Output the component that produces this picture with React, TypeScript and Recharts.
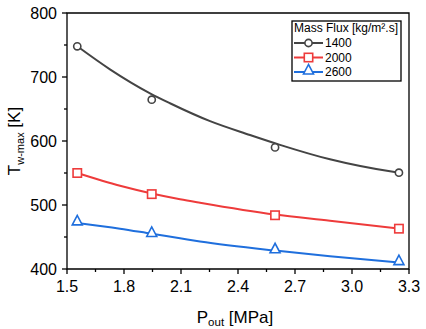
import React from 'react';
import { ComposedChart, Line, Scatter, XAxis, YAxis, ReferenceArea } from 'recharts';

const SERIES_NAMES = ['1400', '2000', '2600'];
const COLORS = ['#444444', '#EE3B3B', '#1F6FDD'];
const SHAPES = ['circle', 'square', 'triangle'];

const MARKER_X = [1.554, 1.946, 2.595, 3.247];
const MARKERS_1400 = [748, 664.5, 590, 550.5];
const MARKERS_2000 = [550, 517, 484, 463];
const MARKERS_2600 = [472, 454, 428.5, 410];

const CURVE_X_1400 = [1.554, 1.726, 1.937, 2.042, 2.253, 2.463, 2.621, 2.884, 3.2, 3.247];
const CURVE_1400 = [748, 712, 674.5, 659, 631, 609.4, 594, 571.4, 552.6, 550.5];
const CURVE_X_2000 = [1.554, 1.779, 1.946, 2.095, 2.2, 2.595, 2.884, 3.247];
const CURVE_2000 = [550, 530, 518, 509, 503.5, 485, 475.5, 463];
const CURVE_X_2600 = [1.554, 1.779, 1.946, 2.095, 2.2, 2.621, 2.884, 3.247];
const CURVE_2600 = [472, 463, 455, 448, 443, 428, 420, 410];

const X_TICKS = [1.5, 1.65, 1.8, 1.95, 2.1, 2.25, 2.4, 2.55, 2.7, 2.85, 3.0, 3.15, 3.3];
const Y_TICKS = [400, 450, 500, 550, 600, 650, 700, 750, 800];

const FONT = '"Liberation Sans", Arial, sans-serif';

const zip = (xs: number[], ys: number[]) => xs.map((x, i) => ({ x, y: ys[i] }));

const markerSets = [MARKERS_1400, MARKERS_2000, MARKERS_2600].map((ys) => zip(MARKER_X, ys));
const curveSets = [
  zip(CURVE_X_1400, CURVE_1400),
  zip(CURVE_X_2000, CURVE_2000),
  zip(CURVE_X_2600, CURVE_2600),
];

function Marker({ cx, cy, shape, color }: { cx: number; cy: number; shape: string; color: string }) {
  if (shape === 'circle') {
    return <circle cx={cx} cy={cy} r={3.6} fill="#fff" stroke={color} strokeWidth={1.6} />;
  }
  if (shape === 'square') {
    return <rect x={cx - 4.2} y={cy - 4.2} width={8.4} height={8.4} fill="#fff" stroke={color} strokeWidth={1.6} />;
  }
  return (
    <polygon
      points={`${cx},${cy - 7.5} ${cx - 5},${cy + 2} ${cx + 5},${cy + 2}`}
      fill="#fff"
      stroke={color}
      strokeWidth={1.6}
      strokeLinejoin="miter"
    />
  );
}

const XTick = (props: any) => {
  const { x, y, payload, index } = props;
  const major = index % 2 === 0;
  return (
    <g>
      <line x1={x} y1={y} x2={x} y2={y + (major ? 5 : 3)} stroke="#000" strokeWidth={1.3} />
      {major && (
        <text x={x} y={y + 23} textAnchor="middle" fontSize={16} fontFamily={FONT} fill="#000">
          {Number(payload.value).toFixed(1)}
        </text>
      )}
    </g>
  );
};

const YTick = (props: any) => {
  const { x, y, payload, index } = props;
  const major = index % 2 === 0;
  return (
    <g>
      <line x1={x} y1={y} x2={x - (major ? 5 : 3)} y2={y} stroke="#000" strokeWidth={1.3} />
      {major && (
        <text x={x - 10} y={y + 5.8} textAnchor="end" fontSize={16} fontFamily={FONT} fill="#000">
          {payload.value}
        </text>
      )}
    </g>
  );
};

const XLabel = (props: any) => {
  const vb = props.viewBox || { x: 67, y: 269, width: 342, height: 60 };
  const cx = vb.x + vb.width / 2 - 3;
  return (
    <text x={cx} y={322.5} textAnchor="middle" fontSize={17} fontFamily={FONT} fill="#000">
      P
      <tspan fontSize={11.5} dy={3}>out</tspan>
      <tspan dy={-3}> [MPa]</tspan>
    </text>
  );
};

const YLabel = () => {
  const x = 19.5;
  const y = 141;
  return (
    <text
      x={x}
      y={y}
      transform={`rotate(-90, ${x}, ${y})`}
      textAnchor="middle"
      fontSize={17}
      fontFamily={FONT}
      fill="#000"
    >
      T
      <tspan fontSize={11} dy={4}>w-max</tspan>
      <tspan dy={-4}> [K]</tspan>
    </text>
  );
};

function LegendBox() {
  const rows = [23, 37.5, 52];
  return (
    <svg
      width={112}
      height={64}
      style={{ position: 'absolute', left: 291, top: 20 }}
    >
      <rect x={1} y={1} width={109} height={60} fill="#fff" stroke="#000" strokeWidth={1.3} />
      <text x={3} y={11.5} fontSize={12} fontFamily={FONT} fill="#000">
        Mass Flux [kg/m².s]
      </text>
      {SERIES_NAMES.map((name, i) => (
        <g key={name}>
          <line x1={3} y1={rows[i]} x2={32} y2={rows[i]} stroke={COLORS[i]} strokeWidth={2} />
          <Marker cx={17.5} cy={rows[i]} shape={SHAPES[i]} color={COLORS[i]} />
          <text x={34} y={rows[i] + 4.3} fontSize={12} fontFamily={FONT} fill="#000">
            {name}
          </text>
        </g>
      ))}
    </svg>
  );
}

export default function App() {
  return (
    <div style={{ position: 'absolute', left: 0, top: 0, width: 426, height: 329, background: '#fff' }}>
      <ComposedChart width={426} height={329} margin={{ top: 13, right: 17, left: 0, bottom: 0 }}>
        <XAxis
          type="number"
          dataKey="x"
          domain={[1.5, 3.3]}
          ticks={X_TICKS}
          interval={0}
          allowDataOverflow
          axisLine={false}
          tickLine={false}
          tickSize={0}
          tickMargin={0}
          height={60}
          tick={<XTick />}
          label={<XLabel />}
        />
        <YAxis
          type="number"
          dataKey="y"
          domain={[400, 800]}
          ticks={Y_TICKS}
          interval={0}
          allowDataOverflow
          axisLine={false}
          tickLine={false}
          tickSize={0}
          tickMargin={0}
          width={67}
          tick={<YTick />}
          label={<YLabel />}
        />
        <ReferenceArea x1={1.5} x2={3.3} y1={400} y2={800} fill="none" fillOpacity={0} stroke="#000" strokeWidth={1.3} />
        {curveSets.map((d, i) => (
          <Line
            key={`line-${i}`}
            data={d}
            dataKey="y"
            type="monotone"
            stroke={COLORS[i]}
            strokeWidth={2}
            dot={false}
            activeDot={false}
            isAnimationActive={false}
          />
        ))}
        {markerSets.map((d, i) => (
          <Scatter
            key={`sc-${i}`}
            data={d}
            dataKey="y"
            isAnimationActive={false}
            shape={(p: any) => <Marker cx={p.cx} cy={p.cy} shape={SHAPES[i]} color={COLORS[i]} />}
          />
        ))}
      </ComposedChart>
      <LegendBox />
    </div>
  );
}
